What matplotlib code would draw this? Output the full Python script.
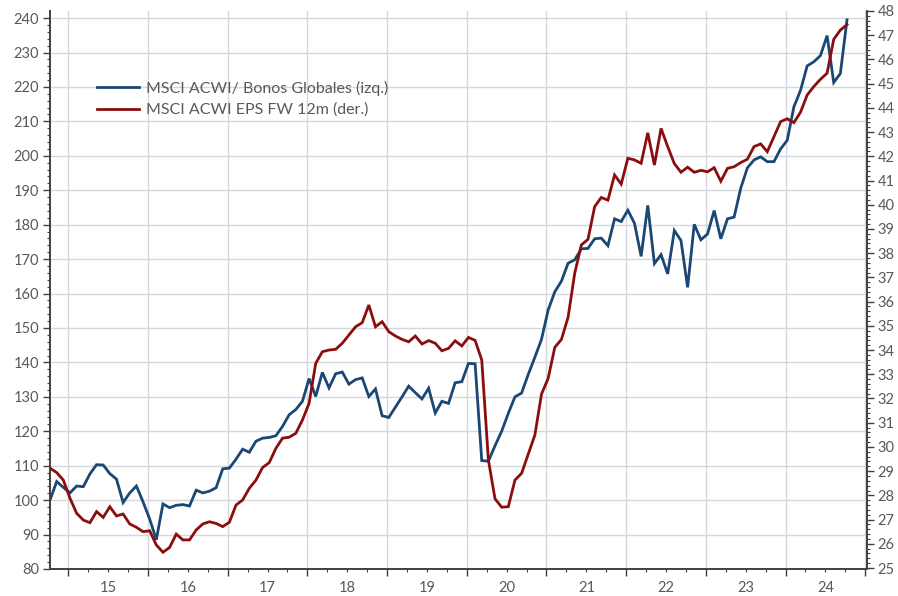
import numpy as np
import matplotlib
matplotlib.use("Agg")
import matplotlib.pyplot as plt
from matplotlib.ticker import FixedLocator, FuncFormatter, NullFormatter

# ---------------- data (monthly, Oct-2014 .. Oct-2024) ----------------
start_year = 2014 + 9.25 / 12          # first observation (Oct 2014)

acwi_bonds = [  # MSCI ACWI / Bonos Globales (left axis)
    100.1, 105.4, 103.7, 102.1, 104.1, 103.9, 107.6, 110.3, 110.2, 107.7,
    106.1, 99.3, 102.1, 104.1, 99.5, 94.5, 88.5, 98.9, 97.8, 98.5,
    98.7, 98.3, 102.9, 102.1, 102.6, 103.6, 109.1, 109.3, 111.9, 114.8,
    113.9, 117.1, 118.0, 118.2, 118.7, 121.4, 124.8, 126.3, 128.7, 135.3,
    130.1, 137.1, 132.6, 136.7, 137.2, 133.7, 135.0, 135.5, 130.1, 132.3,
    124.5, 124.0, 127.0, 130.0, 133.1, 131.2, 129.4, 132.5, 125.3, 128.7,
    128.1, 134.1, 134.4, 139.7, 139.6, 111.5, 111.3, 115.8, 120.0, 125.2,
    130.0, 131.1, 136.5, 141.5, 146.7, 155.2, 160.5, 163.6, 168.8, 169.8,
    173.0, 173.1, 175.9, 176.1, 173.9, 181.7, 180.9, 184.2, 180.4, 170.8,
    185.6, 168.7, 171.3, 165.7, 178.3, 175.4, 161.8, 180.1, 175.6, 177.3,
    184.1, 175.9, 181.7, 182.2, 190.6, 196.5, 198.8, 199.7, 198.3, 198.3,
    202.0, 204.5, 214.2, 219.0, 226.1, 227.3, 229.1, 234.9, 221.3, 223.9,
    239.5,
]

eps_fw12m = [  # MSCI ACWI EPS FW 12m (right axis)
    29.12, 28.94, 28.63, 27.88, 27.26, 26.98, 26.87, 27.33, 27.09, 27.53,
    27.15, 27.23, 26.82, 26.68, 26.50, 26.54, 25.95, 25.65, 25.85, 26.40,
    26.16, 26.16, 26.57, 26.82, 26.91, 26.84, 26.71, 26.89, 27.60, 27.81,
    28.29, 28.63, 29.15, 29.35, 29.94, 30.36, 30.40, 30.56, 31.11, 31.80,
    33.45, 33.93, 34.00, 34.03, 34.28, 34.62, 34.96, 35.13, 35.86, 34.96,
    35.17, 34.76, 34.58, 34.44, 34.34, 34.58, 34.25, 34.39, 34.28, 33.97,
    34.07, 34.38, 34.17, 34.52, 34.40, 33.59, 29.46, 27.86, 27.51, 27.53,
    28.63, 28.91, 29.70, 30.49, 32.18, 32.83, 34.11, 34.44, 35.35, 37.17,
    38.34, 38.57, 39.92, 40.30, 40.19, 41.23, 40.85, 41.92, 41.85, 41.71,
    42.97, 41.64, 43.15, 42.40, 41.70, 41.34, 41.55, 41.34, 41.42, 41.36,
    41.53, 40.97, 41.50, 41.57, 41.74, 41.88, 42.40, 42.51, 42.19, 42.81,
    43.43, 43.55, 43.39, 43.82, 44.53, 44.88, 45.18, 45.43, 46.83, 47.21,
    47.44,
]

label_blue = "MSCI ACWI/ Bonos Globales (izq.)"
label_red = "MSCI ACWI EPS FW 12m (der.)"
years = list(range(2015, 2025))

# ---------------- figure ----------------
FONT = ["Lato", "DejaVu Sans"]
plt.rcParams["font.family"] = FONT

W, H = 898, 596
fig = plt.figure(figsize=(W / 100, H / 100), dpi=100)
ax = fig.add_axes([50 / W, (H - 569) / H, (866.7 - 50) / W, (569 - 10.5) / H])
ax2 = ax.twinx()

x = start_year + np.arange(len(acwi_bonds)) / 12.0

blue = "#1a4774"
red = "#8b0d0d"
grid_c = "#d3d8dc"
spine_c = "#404040"
text_c = "#595959"

l1, = ax.plot(x, acwi_bonds, color=blue, lw=2.0, solid_joinstyle="miter", zorder=3)
l2, = ax2.plot(x, eps_fw12m, color=red, lw=2.0, solid_joinstyle="miter", zorder=3)

ax.set_xlim(2014.77, 2025.018)
ax.set_ylim(80, 242.2)
ax2.set_ylim(24.959, 48.02)

# y axes
ax.set_yticks(np.arange(80, 241, 10))
ax2.set_yticks(np.arange(25, 49, 1))
ax.yaxis.set_minor_locator(FixedLocator(np.arange(80, 241, 2)))
ax2.yaxis.set_minor_locator(FixedLocator(np.arange(25, 48.01, 0.2)))

# x axis: year boundaries (major), quarters (minor); labels at mid-year
ax.xaxis.set_major_locator(FixedLocator(years + [2025]))
ax.xaxis.set_major_formatter(NullFormatter())
quarters = [y + q / 4 for y in range(2014, 2025) for q in (1, 2, 3)]
ax.xaxis.set_minor_locator(FixedLocator(quarters))
ax.xaxis.set_minor_formatter(
    FuncFormatter(lambda v, p: f"{int(v) % 100:02d}" if abs(v - int(v) - 0.5) < 1e-6 and 2015 <= v < 2025 else "")
)

for a in (ax, ax2):
    for s in a.spines.values():
        s.set_color(spine_c)
        s.set_linewidth(1.2)
    a.spines["top"].set_visible(False)

ax.tick_params(axis="y", which="major", direction="out", length=5, width=1, color=spine_c,
               labelsize=10.5, labelcolor=text_c, pad=3)
ax.tick_params(axis="y", which="minor", direction="out", length=2.5, width=0.8, color=spine_c)
ax2.tick_params(axis="y", which="major", direction="out", length=5, width=1, color=spine_c,
                labelsize=10.5, labelcolor=text_c, pad=3)
ax2.tick_params(axis="y", which="minor", direction="out", length=2.5, width=0.8, color=spine_c)
ax.tick_params(axis="x", which="major", direction="out", length=5, width=1, color=spine_c)
ax.tick_params(axis="x", which="minor", direction="out", length=2.5, width=0.8, color=spine_c,
               labelsize=10.5, labelcolor=text_c, pad=6)

ax.grid(True, which="major", axis="both", color=grid_c, lw=1.0, zorder=0)
ax.set_axisbelow(True)

leg = ax2.legend([l1, l2], [label_blue, label_red], loc="upper left",
                 bbox_to_anchor=(97 / W, 1 - 81 / H), bbox_transform=fig.transFigure,
                 frameon=False, fontsize=11.5, handlelength=2.6, handletextpad=0.45,
                 labelspacing=0.42, borderpad=0, borderaxespad=0)
for t in leg.get_texts():
    t.set_color(text_c)

fig.savefig("out.png", dpi=100)
